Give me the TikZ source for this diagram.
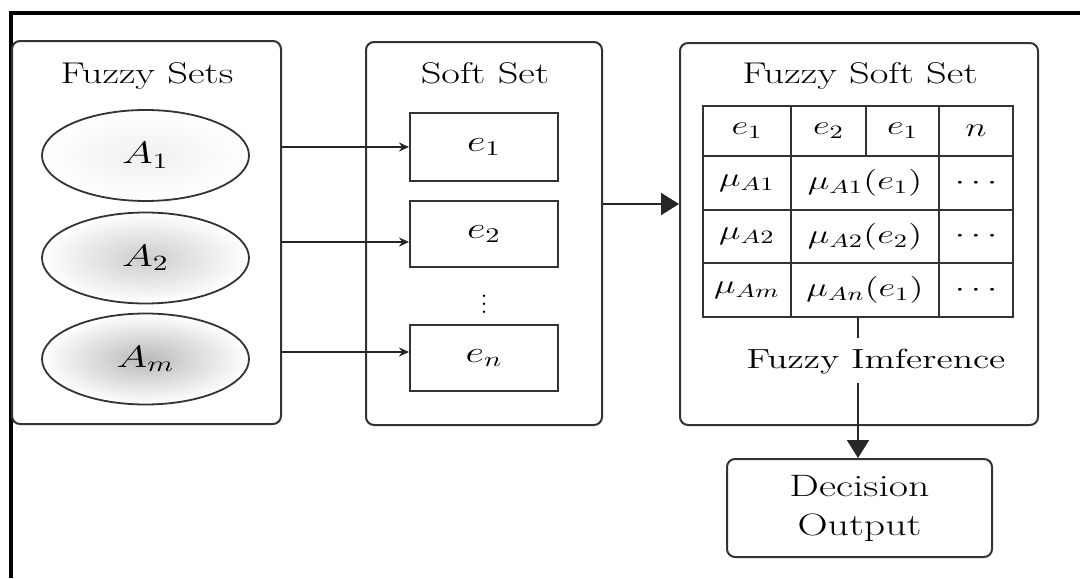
\RequirePackage{fix-cm}
\documentclass[tikz,border=0pt]{standalone}
\usepackage{graphicx}
\usetikzlibrary{arrows.meta,shapes.geometric}
\newcommand\hx[1]{\scalebox{1.35}[1]{#1}}
\begin{document}
\begin{tikzpicture}[x=0.5pt,y=-0.5pt,
  panel/.style={draw=black!80,line width=1pt,rounded corners=4pt,inner sep=0pt},
  ttl/.style={anchor=base,font=\fontsize{15}{17}\selectfont,inner sep=0pt},
  fset/.style={ellipse,draw=black!80,line width=0.9pt,minimum width=103.5pt,minimum height=45.5pt,inner sep=0pt,font=\fontsize{15.5}{17}\selectfont},
  ebox/.style={draw=black!80,line width=1pt,minimum width=74pt,minimum height=33pt,inner sep=0pt,font=\fontsize{15}{17}\selectfont},
  cell/.style={draw=black!80,line width=0.8pt,inner sep=0pt,font=\fontsize{13.5}{15}\selectfont},
  small/.style={-{Stealth[length=5pt,width=4.5pt]},line width=0.9pt,draw=black!85},
  big/.style={-{Triangle[length=9pt,width=11pt]},line width=1pt,draw=black!85}
]
\useasboundingbox (0,0) rectangle (1080,578);
% outer frame
\draw[line width=2pt] (10.5,578) -- (10.5,13) -- (1080,13);

% panels
\node[panel,minimum width=134.5pt,minimum height=191.5pt] (fs) at (146.5,232.5) {};
\node[panel,minimum width=118pt,minimum height=191.5pt] (ss) at (484,233.5) {};
\node[panel,minimum width=179pt,minimum height=191pt] (fss) at (859,234) {};
\node[panel,minimum width=132.5pt,minimum height=49pt,align=center,font=\fontsize{15.5}{19.5}\selectfont] (dec) at (859.5,508) {\hx{Decision}\\\hx{Output}};

% titles
\node[ttl] (tfs) at (147,83) {\hx{Fuzzy Sets}};
\node[ttl] (tss) at (485,83) {\hx{Soft Set}};
\node[ttl] (tfss) at (860,83) {\hx{Fuzzy Soft Set}};

% fuzzy sets
\node[fset,inner color=gray!12,outer color=white] (a1) at (145.5,155.5) {\hx{$A_1$}};
\node[fset,inner color=gray!40,outer color=white] (a2) at (145.5,258) {\hx{$A_2$}};
\node[fset,inner color=gray!55,outer color=white] (am) at (145.5,359) {\hx{$A_m$}};

% soft set
\node[ebox,minimum height=34pt] (e1) at (484,147) {\hx{$e_1$}};
\node[ebox] (e2) at (484,234) {\hx{$e_2$}};
\node[ebox] (en) at (484,358) {\hx{$e_n$}};
\node[font=\fontsize{15}{17}\selectfont,inner sep=0pt] (vd) at (484,298) {$\vdots$};

% table
\node[cell,minimum width=44pt,minimum height=25pt] (h1) at (747,131) {\hx{$e_1$}};
\node[cell,minimum width=37.5pt,minimum height=25pt] (h2) at (828.5,131) {\hx{$e_2$}};
\node[cell,minimum width=36.5pt,minimum height=25pt] (h3) at (902.5,131) {\hx{$e_1$}};
\node[cell,minimum width=37pt,minimum height=25pt] (h4) at (976,131) {\hx{$n$}};

\node[cell,minimum width=44pt,minimum height=27pt] (r1a) at (747,183) {\hx{$\mu_{A1}$}};
\node[cell,minimum width=74pt,minimum height=27pt] (r1b) at (865,183) {\hx{$\mu_{A1}(e_1)$}};
\node[cell,minimum width=37pt,minimum height=27pt] (r1c) at (976,183) {\hx{$\cdots$}};

\node[cell,minimum width=44pt,minimum height=26.5pt] (r2a) at (747,236.5) {\hx{$\mu_{A2}$}};
\node[cell,minimum width=74pt,minimum height=26.5pt] (r2b) at (865,236.5) {\hx{$\mu_{A2}(e_2)$}};
\node[cell,minimum width=37pt,minimum height=26.5pt] (r2c) at (976,236.5) {\hx{$\cdots$}};

\node[cell,minimum width=44pt,minimum height=27pt] (r3a) at (747,290) {\hx{$\mu_{Am}$}};
\node[cell,minimum width=74pt,minimum height=27pt] (r3b) at (865,290) {\hx{$\mu_{An}(e_1)$}};
\node[cell,minimum width=37pt,minimum height=27pt] (r3c) at (976,290) {\hx{$\cdots$}};

% inference
\node[font=\fontsize{13.8}{16}\selectfont,inner sep=0pt] (inf) at (876,362) {\hx{Fuzzy Imference}};
\coordinate (tb) at (858,317);
\coordinate (t1) at (858,338);
\coordinate (t2) at (858,383);

% connectors
\draw[small] (fs.east |- 0,147) -- (e1.west |- 0,147);
\draw[small] (fs.east |- 0,242) -- (e2.west |- 0,242);
\draw[small] (fs.east |- 0,352) -- (en.west |- 0,352);
\draw[big] (ss.east |- 0,204) -- (fss.west |- 0,204);
\draw[line width=1pt,draw=black!85] (tb) -- (t1);
\draw[big] (t2) -- (dec.north -| t2);
\end{tikzpicture}
\end{document}
